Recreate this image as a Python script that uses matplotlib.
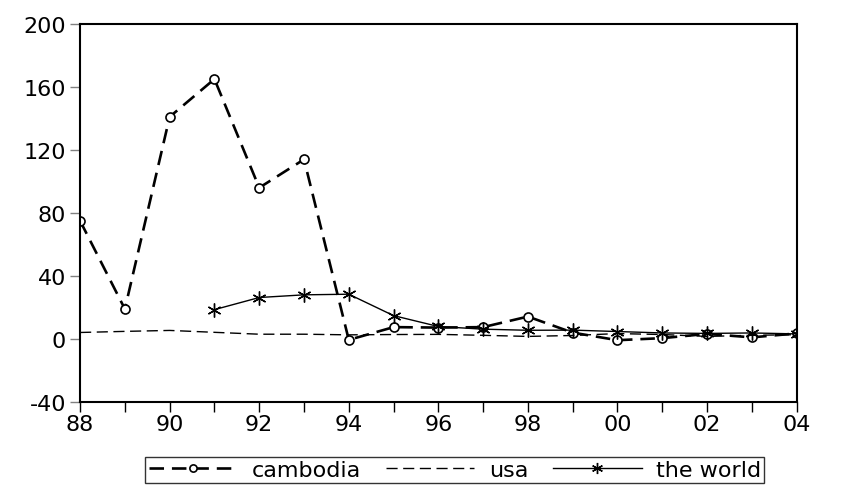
import numpy as np
import matplotlib.pyplot as plt

plt.rcParams['font.family'] = ['DejaVu Sans']
plt.rcParams['axes.unicode_minus'] = False

# años 1988-2004
years = np.arange(1988, 2005)
cambodia = [75, 19, 141, 165, 96, 114, -0.6, 7.5, 7.2, 7.5, 14.2, 4.0, -0.8, 0.5, 3.2, 1.0, 3.5]
usa = [4.1, 4.8, 5.4, 4.2, 3.0, 3.0, 2.6, 2.8, 2.9, 2.3, 1.6, 2.2, 3.4, 2.8, 1.6, 2.3, 2.7]
world_years = np.arange(1991, 2005)
world = [18.6, 26.3, 28.0, 28.4, 14.8, 7.9, 6.2, 5.5, 5.6, 4.7, 3.8, 3.5, 3.8, 3.2]

fig = plt.figure(figsize=(8.43, 4.89), dpi=100)
ax = fig.add_axes([0.095, 0.176, 0.85, 0.773])

ax.plot(years, cambodia, color='black', lw=1.9, ls=(0, (5.5, 3)), marker='o',
        ms=6.5, mfc='white', mec='black', mew=1.2, label='cambodia')
ax.plot(years, usa, color='black', lw=1.0, ls=(0, (8, 4)), label='usa')
ax.plot(world_years, world, color='black', lw=1.0, marker=(6, 2, 0),
        ms=10, mew=1.0, label='the world')

ax.set_xlim(1988, 2004)
ax.set_ylim(-40, 200)
ax.set_yticks([-40, 0, 40, 80, 120, 160, 200])
ax.set_xticks(np.arange(1988, 2005, 2))
ax.set_xticklabels(['%02d' % (y % 100) for y in range(1988, 2005, 2)])
ax.set_xticks(np.arange(1989, 2004, 2), minor=True)
ax.tick_params(axis='both', which='both', direction='out', length=7, width=1,
               colors='black', labelsize=16, pad=2)
ax.tick_params(axis='y', color='gray', pad=3)
for s in ax.spines.values():
    s.set_linewidth(1.5)

leg = ax.legend(loc='upper center', bbox_to_anchor=(0.523, -0.145), ncol=3,
                frameon=True, fancybox=False, edgecolor='black', fontsize=16,
                handlelength=4.0, columnspacing=1.1, borderpad=0.15,
                handletextpad=0.65, borderaxespad=0, markerscale=0.8)
leg.get_frame().set_linewidth(1.0)

fig.savefig('out.png', dpi=100)
